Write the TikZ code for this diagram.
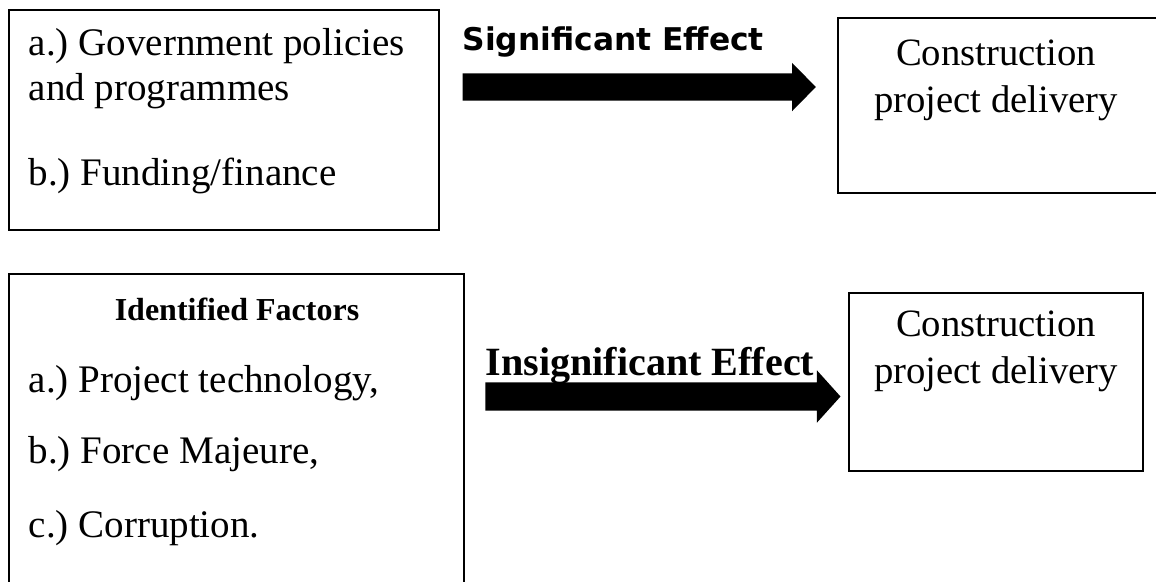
\documentclass[tikz,border=0pt]{standalone}
\usepackage{fontspec}
\setmainfont{Liberation Serif}
\newfontfamily\effectsans{DejaVu Sans}
\usetikzlibrary{positioning, shapes.arrows}
\frenchspacing

\begin{document}
\begin{tikzpicture}[x=0.01cm, y=-0.01cm,
                    box/.style={draw=black, line width=0.6pt, inner sep=0pt},
                    item/.style={anchor=base west, inner sep=0pt, font=\fontsize{11.1pt}{13pt}\selectfont},
                    outcome/.style={anchor=base, inner sep=0pt, font=\fontsize{11pt}{13pt}\selectfont},
                    fatarrow/.style={single arrow, fill=black, draw=none, inner xsep=0pt, single arrow head indent=0pt}]
  \clip (0,0) rectangle (1156,581);
  % factor boxes
  \node[box, minimum width=4.30cm, minimum height=2.20cm] (govbox) at (224,120) {};
  \node[box, minimum width=4.55cm, minimum height=3.30cm] (factbox) at (236.5,439) {};
  % outcome boxes
  \node[box, minimum width=3.24cm, minimum height=1.75cm] (delivtop) at (1000,105.5) {};
  \node[box, minimum width=2.94cm, minimum height=1.78cm] (delivbot) at (996,382) {};
  \node[item] (gova) at (28,55) {a.) Government policies};
  \node[item] (govb) at (28,100) {and programmes};
  \node[item] (govc) at (28,185) {b.) Funding/finance};
  \node[anchor=base, inner sep=0pt, font=\fontsize{9.1pt}{11pt}\selectfont\bfseries] (facthead) at (237,320) {Identified Factors};
  \node[item] (facta) at (28,392) {a.) Project technology,};
  \node[item] (factb) at (28,463) {b.) Force Majeure,};
  \node[item] (factc) at (28,537) {c.) Corruption.};
  \node[outcome] (topa) at (996,65) {Construction};
  \node[outcome] (topb) at (996,112) {project delivery};
  \node[outcome] (bota) at (996,336) {Construction};
  \node[outcome] (botb) at (996,383) {project delivery};
  % effects
  \node[fatarrow, minimum height=3.53cm, inner ysep=0.13cm, single arrow head extend=0.105cm, single arrow tip angle=91] (sigarrow) at (632.5,87) {};
  \node[fatarrow, minimum height=3.55cm, inner ysep=0.135cm, single arrow head extend=0.12cm, single arrow tip angle=96] (insigarrow) at (656.5,396.5) {};
  \node[anchor=base west, inner sep=0pt, font=\effectsans\bfseries\fontsize{8.9pt}{11pt}\selectfont] (siglabel) at (462,50) {Significant Effect};
  \node[anchor=base west, inner sep=0pt, font=\bfseries\fontsize{11.4pt}{13pt}\selectfont] (insiglabel) at (485,375) {Insignificant Effect};
\end{tikzpicture}
\end{document}
